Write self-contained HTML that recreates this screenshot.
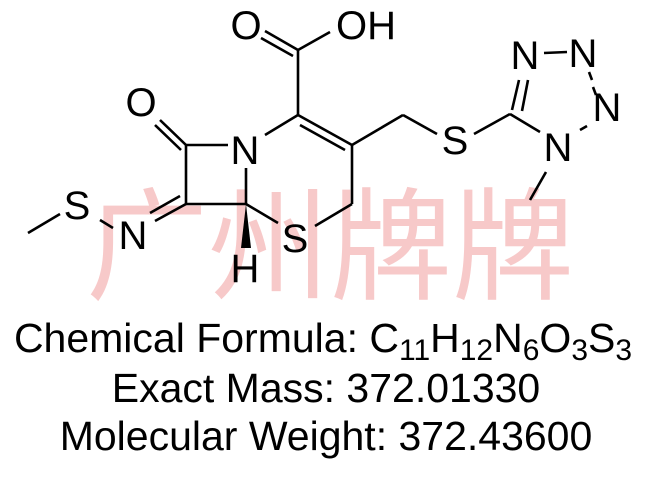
<!DOCTYPE html>
<html><head><meta charset="utf-8"><style>
html,body{margin:0;padding:0;background:#fff;}
body{width:649px;height:482px;overflow:hidden;position:relative;}
svg{position:absolute;left:0;top:0;}
</style></head><body>
<svg width="649" height="482" viewBox="0 0 649 482" xmlns="http://www.w3.org/2000/svg">
<text x="330" y="290" text-anchor="middle" font-family="'Noto Sans CJK SC',sans-serif" font-size="122" fill="#f7c9c9">广州牌牌</text>
<g stroke="#000" stroke-width="2.6" fill="none" stroke-linecap="butt">
<line x1="186" y1="145" x2="160" y2="120"/>
<line x1="181" y1="150" x2="155" y2="125"/>
<line x1="186" y1="145" x2="228" y2="145"/>
<line x1="186" y1="145" x2="186" y2="204"/>
<line x1="186" y1="204" x2="246" y2="204"/>
<line x1="246" y1="168" x2="246" y2="204"/>
<line x1="186" y1="204" x2="155" y2="221"/>
<line x1="180" y1="196" x2="150" y2="213"/>
<line x1="113" y1="228" x2="100" y2="220"/>
<line x1="60" y1="214" x2="28" y2="233"/>
<line x1="265" y1="135" x2="298" y2="115"/>
<line x1="298" y1="115" x2="352" y2="145"/>
<line x1="300" y1="125" x2="345" y2="150"/>
<line x1="352" y1="145" x2="352" y2="204"/>
<line x1="352" y1="204" x2="315" y2="226"/>
<line x1="246" y1="204" x2="278" y2="223"/>
<line x1="298" y1="115" x2="298" y2="50"/>
<line x1="298" y1="50" x2="265" y2="31"/>
<line x1="293" y1="56" x2="261" y2="38"/>
<line x1="298" y1="50" x2="330" y2="32"/>
<line x1="352" y1="145" x2="403" y2="115"/>
<line x1="403" y1="115" x2="437" y2="134"/>
<line x1="474" y1="134" x2="510" y2="114"/>
<line x1="510" y1="114" x2="540" y2="132"/>
<line x1="512" y1="110" x2="519" y2="80"/>
<line x1="522" y1="111" x2="528" y2="80"/>
<line x1="544" y1="53" x2="567" y2="52"/>
<line x1="589" y1="72" x2="592" y2="80"/>
<line x1="593" y1="87" x2="596" y2="95"/>
<line x1="580" y1="130" x2="587" y2="126"/>
<line x1="546" y1="172" x2="530" y2="200"/>
</g>
<polygon points="246,204 241,248 251,248" fill="#000"/>
<g font-family="'Liberation Sans',Arial,sans-serif" font-size="40" fill="#000" text-anchor="middle">
<text x="141" y="116">O</text>
<text x="245" y="164">N</text>
<text x="77" y="219">S</text>
<text x="133" y="249">N</text>
<text x="295" y="252">S</text>
<text x="245" y="282">H</text>
<text x="246" y="39">O</text>
<text x="366" y="39">OH</text>
<text x="455" y="154">S</text>
<text x="525" y="69">N</text>
<text x="583" y="67">N</text>
<text x="607" y="121">N</text>
<text x="558" y="161">N</text>
</g>
<g font-family="'Liberation Sans',Arial,sans-serif" font-size="41" fill="#000" text-anchor="middle">
<text x="323" y="352">Chemical Formula: C<tspan font-size="30" dy="8">11</tspan><tspan dy="-8">H</tspan><tspan font-size="30" dy="8">12</tspan><tspan dy="-8">N</tspan><tspan font-size="30" dy="8">6</tspan><tspan dy="-8">O</tspan><tspan font-size="30" dy="8">3</tspan><tspan dy="-8">S</tspan><tspan font-size="30" dy="8">3</tspan></text>
<text x="326" y="402">Exact Mass: 372.01330</text>
<text x="326" y="450">Molecular Weight: 372.43600</text>
</g>
</svg>
</body></html>
